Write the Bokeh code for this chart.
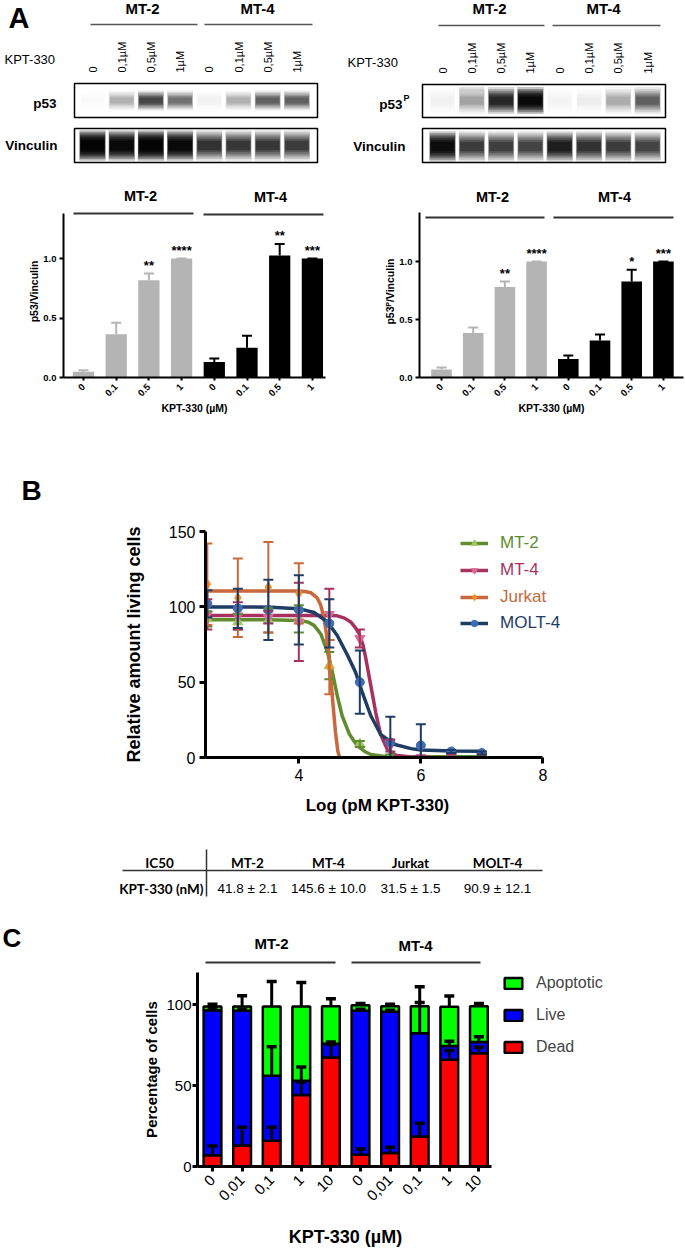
import math
from bokeh.plotting import figure
from bokeh.models import (Range1d, FixedTicker, Legend, LegendItem,
                          ColumnDataSource, Whisker, TeeHead)
from bokeh.layouts import row, column
from bokeh.embed import file_html
from bokeh.resources import INLINE
from bokeh.core.properties import value

# ======================= DATA =======================
# Panel A - western blots (relative band darkness, 0..1)
blot_groups = ["MT-2", "MT-4"]
blot_lane_labels = ["0", "0,1µM", "0,5µM", "1µM", "0", "0,1µM", "0,5µM", "1µM"]
blot_p53 = [0.02, 0.30, 0.72, 0.55, 0.05, 0.30, 0.62, 0.62]
blot_vinc_left = [0.98, 0.96, 0.98, 0.96, 0.80, 0.78, 0.78, 0.76]
blot_p53p = [0.05, 0.35, 0.85, 0.96, 0.04, 0.07, 0.32, 0.62]
blot_p53p_upper = [0.0, 0.10, 0.0, 0.0, 0.0, 0.0, 0.0, 0.0]
blot_vinc_right = [0.95, 0.76, 0.75, 0.73, 0.88, 0.80, 0.76, 0.73]

# Panel A - quantification
quant_labels = ["0", "0.1", "0.5", "1", "0", "0.1", "0.5", "1"]
quant_yticks = [0, 0.5, 1.0]
quant_ytick_labels = ["0.0", "0.5", "1.0"]
p53_mean = [0.048, 0.364, 0.818, 1.0, 0.13, 0.25, 1.025, 1.0]
p53_sem = [0.012, 0.096, 0.056, 0.0, 0.03, 0.10, 0.097, 0.0]
p53_sig = ["", "", "**", "****", "", "", "**", "***"]
p53p_mean = [0.069, 0.384, 0.78, 1.0, 0.16, 0.318, 0.828, 1.0]
p53p_sem = [0.017, 0.046, 0.048, 0.0, 0.03, 0.052, 0.10, 0.0]
p53p_sig = ["", "", "**", "****", "", "", "*", "***"]

# Panel B - dose response (log pM KPT-330)
log_conc = [2.5, 3.0, 3.5, 4.0, 4.5, 5.0, 5.5, 6.0, 6.5, 7.0]
mt2_mean = [92, 90, 91, 92, 61, 9, 1, 0, 1, 1]
mt2_sd = [5, 5, 8, 9, 9, 2, 1, 1, 1, 1]
mt4_mean = [95, 94, 93, 90, 95, 79, 8, 0, 1, 1]
mt4_sd = [10, 9, 4, 26, 17, 6, 4, 1, 1, 1]
jurkat_mean = [115, 106, 113, 109, 60]
jurkat_sd = [27, 26, 30, 20, 18]
molt4_mean = [102, 99, 98, 98, 89, 50, 10, 8, 4, 3]
molt4_sd = [9, 13, 20, 23, 16, 21, 17, 14, 1, 1]
# fitted curves
mt2_fit_x = [2.47, 3.5, 4.0, 4.15, 4.25, 4.36, 4.47, 4.55, 4.63, 4.71, 4.83, 4.96, 5.08, 5.18, 5.35, 5.5, 6.0, 7.0]
mt2_fit_y = [91.5, 91.4, 91.0, 90.0, 87.7, 82, 70, 56.6, 41, 27.7, 15.4, 7.7, 4.0, 2.0, 1.0, 0.7, 0.5, 0.5]
mt4_fit_x = [2.47, 4.5, 4.63, 4.75, 4.85, 4.93, 4.99, 5.05, 5.1, 5.18, 5.26, 5.34, 5.45, 5.59, 5.84, 6.15]
mt4_fit_y = [94.3, 94.2, 94.0, 92.5, 90, 86, 82, 75, 65.4, 47.7, 30, 15.4, 5.4, 1.5, 0.3, 0.1]
jurkat_fit_x = [2.47, 4.0, 4.1, 4.2, 4.3, 4.36, 4.41, 4.45, 4.5, 4.55, 4.6, 4.64, 4.67]
jurkat_fit_y = [110.5, 110.5, 110.2, 109.3, 106, 101, 93, 83, 65, 40, 17, 4, 0]
molt4_fit_x = [2.47, 3.54, 4.0, 4.25, 4.47, 4.63, 4.8, 4.93, 5.04, 5.18, 5.34, 5.56, 5.84, 6.0, 6.5, 7.0]
molt4_fit_y = [99.9, 99.8, 98.8, 96.2, 90, 81, 67.7, 56.6, 43.2, 27.7, 15.4, 8.8, 5.9, 5.0, 4.3, 4.2]
b_xticks = [4, 6, 8]
b_yticks = [0, 50, 100, 150]

# IC50 table
ic50_header = ["IC50", "MT-2", "MT-4", "Jurkat", "MOLT-4"]
ic50_row = ["KPT-330 (nM)", "41.8 ± 2.1", "145.6 ± 10.0", "31.5 ± 1.5", "90.9 ± 12.1"]

# Panel C - apoptosis assay (% of cells)
c_labels = ["0", "0,01", "0,1", "1", "10", "0", "0,01", "0,1", "1", "10"]
dead = [7.0, 13.0, 16.0, 44.2, 67.5, 7.2, 8.4, 18.5, 66.0, 70.0]
live = [89.7, 83.3, 40.2, 8.8, 8.5, 89.1, 87.3, 64.0, 8.5, 7.0]
apoptotic = [2.3, 2.7, 42.8, 46.0, 23.2, 3.5, 3.5, 16.7, 24.3, 22.2]
dead_err = [5.7, 11.3, 8.3, 8.0, 8.0, 3.7, 3.5, 8.2, 5.7, 3.7]
live_err = [1.0, 1.0, 17.8, 8.5, 1.0, 1.0, 1.0, 19.0, 3.0, 3.2]
apoptotic_err = [1.4, 6.6, 15.4, 14.8, 4.5, 1.0, 1.2, 12.0, 6.7, 1.6]
c_yticks = [0, 50, 100]

# ======================= STYLE / HELPERS =======================
ARIAL = "Liberation Sans"
CAL = "Lato"
GRAY = "#b4b4b4"


def new_fig(W, H, xr, yr, ml=0, mr=0, mt=0, mb=0, axes=True):
    kw = {} if axes else dict(x_axis_location=None, y_axis_location=None)
    p = figure(width=W, height=H, x_range=xr, y_range=yr, output_backend="svg",
               toolbar_location=None, min_border_left=ml, min_border_right=mr,
               min_border_top=mt, min_border_bottom=mb, **kw)
    p.frame_align = False
    p.outline_line_color = None
    for g in p.grid:
        g.visible = False
    p.background_fill_color = "white"
    p.border_fill_color = "white"
    return p


def px_fig(W, H, x0, y0):
    """Annotation strip whose data coordinates are page pixels."""
    return new_fig(W, H, Range1d(x0, x0 + W), Range1d(y0 + H, y0), axes=False)


def gtext(p, xs, ys, texts, size, font=ARIAL, style="normal", align="center",
          baseline="middle", angle=0.0, color="black"):
    p.text(x=list(xs), y=list(ys), text=list(texts), text_font=value(font),
           text_font_size=size, text_font_style=style, text_align=align,
           text_baseline=baseline, angle=angle, text_color=color)


def style_axis(ax, font, size, fstyle, lw, tick_out, standoff):
    ax.axis_line_width = lw
    ax.axis_line_color = "black"
    ax.major_tick_line_width = lw
    ax.major_tick_line_color = "black"
    ax.major_tick_out = tick_out
    ax.major_tick_in = 0
    ax.minor_tick_line_color = None
    ax.major_label_text_font = font
    ax.major_label_text_font_size = size
    ax.major_label_text_font_style = fstyle
    ax.major_label_text_color = "black"
    ax.major_label_standoff = standoff


def axis_title(ax, text, size, standoff):
    ax.axis_label = text
    ax.axis_label_text_font = ARIAL
    ax.axis_label_text_font_size = size
    ax.axis_label_text_font_style = "bold"
    ax.axis_label_text_color = "black"
    ax.axis_label_standoff = standoff


BAND_LAYERS = [(1.8, 1.0, 0.08), (1.55, 0.98, 0.12), (1.3, 0.96, 0.15),
               (1.05, 0.94, 0.18), (0.8, 0.92, 0.21), (0.55, 0.90, 0.26)]


def draw_bands(p, intens, cy, h, width=0.9):
    lanes = list(range(len(intens)))
    for hs, ws, wexp in BAND_LAYERS:
        alphas = [1 - (1 - min(v, 0.99)) ** wexp for v in intens]
        p.rect(x=lanes, y=[cy] * len(lanes), width=width * ws, height=h * hs,
               fill_color="black", fill_alpha=alphas, line_color=None)


# ======================= PANEL A : BLOTS =======================
lanes = list(range(len(blot_lane_labels)))

# left blot (p53)
L0, ST = 92.0, 29.2
bx = lambda px: (px - L0) / ST
pA1 = new_fig(340, 170, Range1d(bx(0), bx(340)), Range1d(170, 0), axes=False)
gtext(pA1, [bx(8)], [17.5], ["A"], "29px", style="bold", align="left")
gtext(pA1, [bx(142), bx(257)], [8, 8], blot_groups, "15px", style="bold")
pA1.segment(x0=[bx(90), bx(204)], y0=[24, 24], x1=[bx(197), bx(312)], y1=[24, 24],
            line_color="#555555", line_width=1.5)
gtext(pA1, [bx(4)], [59], ["KPT-330"], "13px", align="left")
gtext(pA1, lanes, [72] * len(lanes), blot_lane_labels, "11px", align="left",
      angle=math.pi / 2)
draw_bands(pA1, blot_p53, 100, 11)
draw_bands(pA1, blot_vinc_left, 145, 17)
pA1.quad(left=[bx(74)] * 2, right=[bx(317)] * 2, top=[83, 128], bottom=[117, 162],
         fill_color=None, line_color="black", line_width=1.5)
gtext(pA1, [bx(56), bx(57)], [103, 145], ["p53", "Vinculin"], "13.5px", style="bold",
      align="right")

# right blot (phospho p53)
R0, STr = 102.0, 29.3
rx = lambda px: (px - R0) / STr
pA2 = new_fig(345, 170, Range1d(rx(0), rx(345)), Range1d(170, 0), axes=False)
gtext(pA2, [rx(149), rx(263)], [8, 8], blot_groups, "15px", style="bold")
pA2.segment(x0=[rx(98), rx(212)], y0=[25, 25], x1=[rx(204), rx(320)], y1=[25, 25],
            line_color="#555555", line_width=1.5)
gtext(pA2, [rx(7)], [62], ["KPT-330"], "13px", align="left")
gtext(pA2, lanes, [73] * len(lanes), blot_lane_labels, "11px", align="left",
      angle=math.pi / 2)
draw_bands(pA2, blot_p53p, 100, 15)
draw_bands(pA2, blot_p53p_upper, 89, 5)
draw_bands(pA2, blot_vinc_right, 146, 17)
pA2.quad(left=[rx(82)] * 2, right=[rx(325)] * 2, top=[84, 128], bottom=[117, 162],
         fill_color=None, line_color="black", line_width=1.5)
gtext(pA2, [rx(62)], [104], ["p53"], "13.5px", style="bold", align="right")
gtext(pA2, [rx(63)], [97], ["P"], "9px", style="bold", align="left")
gtext(pA2, [rx(65)], [146], ["Vinculin"], "13.5px", style="bold", align="right")


# ======================= PANEL A : QUANTIFICATION =======================
def quant_fig(W, x0, fl, fr, y0, y1, ytop, c0, step, mean, sem, sig, ylabel, grp_lines):
    top, H = 205, 225
    unit = y0 - y1
    fx = lambda px: (px - c0) / step
    fy = lambda py: (y0 - py) / unit
    p = new_fig(W, H, Range1d(fx(fl), fx(fr)), Range1d(0, fy(top)),
                ml=fl - x0, mr=x0 + W - fr, mt=0, mb=top + H - y0)
    idx = list(range(len(mean)))
    half = len(mean) // 2
    colors = [GRAY if i < half else "black" for i in idx]
    up = [m + s for m, s in zip(mean, sem)]
    src = ColumnDataSource(dict(x=idx, top=mean, color=colors))
    p.vbar(x="x", top="top", width=0.65, fill_color="color", line_color=None, source=src)
    for sl, c in ((slice(0, half), GRAY), (slice(half, None), "black")):
        s = ColumnDataSource(dict(x=idx[sl], lo=mean[sl], hi=up[sl]))
        p.add_layout(Whisker(source=s, base="x", lower="lo", upper="hi", line_color=c,
                             line_width=2, upper_head=TeeHead(size=10, line_color=c, line_width=2),
                             lower_head=None, level="glyph"))
    gtext(p, idx, [u + 8.0 / unit for u in up], sig, "13px", style="bold")
    p.segment(x0=[fx(a) for a, b, y in grp_lines], y0=[fy(y) for a, b, y in grp_lines],
              x1=[fx(b) for a, b, y in grp_lines], y1=[fy(y) for a, b, y in grp_lines],
              line_color="#333333", line_width=2)
    ya, xa = p.yaxis[0], p.xaxis[0]
    ya.ticker = FixedTicker(ticks=quant_yticks)
    ya.major_label_overrides = dict(zip(quant_yticks, quant_ytick_labels))
    ya.bounds = (0, fy(ytop))
    xa.ticker = FixedTicker(ticks=idx)
    xa.major_label_overrides = dict(zip(idx, quant_labels))
    xa.major_label_orientation = math.pi / 4
    xa.bounds = (fx(fl), fx(fr))
    style_axis(ya, ARIAL, "9.5px", "bold", 2, 4, 3)
    style_axis(xa, ARIAL, "9.5px", "bold", 2, 3, 5)
    axis_title(ya, ylabel, "10.5px", 0)
    axis_title(xa, "KPT-330 (µM)", "10.5px", 0)
    return p


gQ1 = px_fig(340, 35, 0, 170)
gtext(gQ1, [140, 270], [195, 196], blot_groups, "14.5px", style="bold")
gQ2 = px_fig(345, 35, 340, 170)
gtext(gQ2, [492, 614], [196, 196], blot_groups, "14.5px", style="bold")

pQ1 = quant_fig(340, 0, 63, 325, 377, 258, 213, 83, 32.7, p53_mean, p53_sem, p53_sig,
                "p53/Vinculin", [(73, 193, 213), (203, 323, 214)])
pQ2 = quant_fig(345, 340, 419, 683, 377, 261, 212, 441, 31.7, p53p_mean, p53p_sem, p53p_sig,
                "p53ᴾ/Vinculin", [(425, 544, 217), (553, 673, 217)])

# ======================= PANEL B =======================
pBtop = px_fig(685, 91, 0, 430)
gtext(pBtop, [21], [490], ["B"], "28px", style="bold", align="left")

B_fl, B_bot, B_ytop = 205, 757, 531
B_ppx = 61.0
B_x0 = 2.47
fxB = lambda px: B_x0 + (px - B_fl) / B_ppx
pB = new_fig(685, 274, Range1d(B_x0, fxB(685)), Range1d(0, 150),
             ml=B_fl, mr=0, mt=B_ytop - 521, mb=795 - B_bot)

series = [
    ("MT-2", mt2_mean, mt2_sd, mt2_fit_x, mt2_fit_y, "#608c2e", "#a3c466", "triangle"),
    ("MT-4", mt4_mean, mt4_sd, mt4_fit_x, mt4_fit_y, "#a8325f", "#d96a95", "inverted_triangle"),
    ("Jurkat", jurkat_mean, jurkat_sd, jurkat_fit_x, jurkat_fit_y, "#c9683d", "#f7931e", "diamond"),
    ("MOLT-4", molt4_mean, molt4_sd, molt4_fit_x, molt4_fit_y, "#1f3c64", "#3d6db5", "circle"),
]
legend_centers = [543, 570, 597, 623]
for k, (name, m, sd, cx, cy, lc, mc, mk) in enumerate(series):
    xs = log_conc[:len(m)]
    r_line = pB.line(cx, cy, line_color=lc, line_width=3.5)
    ws = ColumnDataSource(dict(x=xs, lo=[a - b for a, b in zip(m, sd)], hi=[a + b for a, b in zip(m, sd)]))
    pB.add_layout(Whisker(source=ws, base="x", lower="lo", upper="hi", line_color=lc, line_width=2,
                          upper_head=TeeHead(size=10, line_color=lc, line_width=2),
                          lower_head=TeeHead(size=10, line_color=lc, line_width=2), level="glyph"))
    r_pts = pB.scatter(xs, m, marker=mk, size=10 if mk != "circle" else 9,
                       fill_color=mc, line_color=mc)
    leg = Legend(items=[LegendItem(label=name, renderers=[r_line, r_pts])],
                 location=(460 - B_fl, int(B_bot - legend_centers[k] - 10)),
                 glyph_width=28, glyph_height=16, label_height=20, label_standoff=12,
                 padding=0, margin=0, spacing=0, border_line_color=None,
                 background_fill_alpha=0, label_text_font=ARIAL,
                 label_text_font_size="17px", label_text_color=lc)
    pB.add_layout(leg)

ya, xa = pB.yaxis[0], pB.xaxis[0]
ya.ticker = FixedTicker(ticks=b_yticks)
ya.bounds = (0, 150)
xa.ticker = FixedTicker(ticks=b_xticks)
xa.bounds = (B_x0, 8)
style_axis(ya, ARIAL, "16px", "normal", 3, 6, 4)
style_axis(xa, ARIAL, "16px", "normal", 3, 6, 5)
axis_title(ya, "Relative amount living cells", "18px", 22)

# ======================= B x-title + IC50 TABLE =======================
pT = px_fig(685, 115, 0, 795)
gtext(pT, [377], [805], ["Log (pM KPT-330)"], "17px", style="bold")
col_x = [159, 247, 328, 410, 497]
gtext(pT, col_x, [862] * 5, ic50_header, "13.5px", font=CAL, style="bold")
gtext(pT, [203], [888], ic50_row[:1], "13.5px", font=CAL, style="bold", align="right")
gtext(pT, col_x[1:], [888] * 4, ic50_row[1:], "13.5px")
pT.segment(x0=[122, 206], y0=[870, 849], x1=[542, 206], y1=[870, 896],
           line_color="#333333", line_width=1.5)

# ======================= PANEL C =======================
pCtop = px_fig(685, 56, 0, 910)
gtext(pCtop, [2], [937], ["C"], "26px", style="bold", align="left")
gtext(pCtop, [271, 415], [943, 945], blot_groups, "15px", style="bold")
pCtop.segment(x0=[205, 351], y0=[962, 962], x1=[335, 480], y1=[962, 962],
              line_color="#333333", line_width=2)

C_fl, C_bot, C_top = 197, 1166, 972
C_c0, C_step = 212.0, 29.6
fxC = lambda px: (px - C_c0) / C_step
pC = new_fig(685, 248, Range1d(fxC(C_fl), fxC(685)), Range1d(0, 120),
             ml=C_fl, mr=0, mt=C_top - 966, mb=1214 - C_bot)
idx = list(range(len(dead)))
d_top = dead
l_top = [a + b for a, b in zip(dead, live)]
a_top = [a + b for a, b in zip(l_top, apoptotic)]
srcC = ColumnDataSource(dict(x=idx, z=[0] * len(idx), d=d_top, l=l_top, a=a_top))
rD = pC.vbar(x="x", bottom="z", top="d", width=0.6, fill_color="#ff0000",
             line_color="black", line_width=2.5, source=srcC)
rL = pC.vbar(x="x", bottom="d", top="l", width=0.6, fill_color="#0000ff",
             line_color="black", line_width=2.5, source=srcC)
rA = pC.vbar(x="x", bottom="l", top="a", width=0.6, fill_color="#00ff00",
             line_color="black", line_width=2.5, source=srcC)
for tops, errs in ((d_top, dead_err), (l_top, live_err), (a_top, apoptotic_err)):
    s = ColumnDataSource(dict(x=idx, lo=tops, hi=[t + e for t, e in zip(tops, errs)]))
    pC.add_layout(Whisker(source=s, base="x", lower="lo", upper="hi", line_color="black",
                          line_width=3, upper_head=TeeHead(size=10, line_color="black", line_width=3.5),
                          lower_head=None, level="annotation"))
legC = Legend(items=[LegendItem(label="Apoptotic", renderers=[rA]),
                     LegendItem(label="Live", renderers=[rL]),
                     LegendItem(label="Dead", renderers=[rD])],
              location=(502 - C_fl, 110),
              glyph_width=22, glyph_height=14, label_height=19, label_standoff=12,
              spacing=13, padding=0, margin=0, border_line_color=None,
              background_fill_alpha=0, label_text_font=ARIAL, label_text_font_size="16px")
pC.add_layout(legC)
ya, xa = pC.yaxis[0], pC.xaxis[0]
ya.ticker = FixedTicker(ticks=c_yticks)
ya.bounds = (0, 120)
xa.ticker = FixedTicker(ticks=idx)
xa.major_label_overrides = dict(zip(idx, c_labels))
xa.major_label_orientation = math.pi / 4
xa.bounds = (fxC(C_fl), fxC(491))
style_axis(ya, ARIAL, "15px", "normal", 3, 5, 1)
style_axis(xa, ARIAL, "15px", "normal", 3, 5, 6)
axis_title(ya, "Percentage of cells", "15px", 3)

pCx = px_fig(685, 35, 0, 1214)
gtext(pCx, [345], [1236], ["KPT-330 (µM)"], "18px", style="bold")

# ======================= LAYOUT =======================
root = column(
    row(pA1, pA2),
    row(column(gQ1, pQ1), column(gQ2, pQ2)),
    pBtop, pB, pT,
    pCtop, pC, pCx,
)
open("out.html", "w").write(file_html(root, INLINE, title="KPT-330"))
